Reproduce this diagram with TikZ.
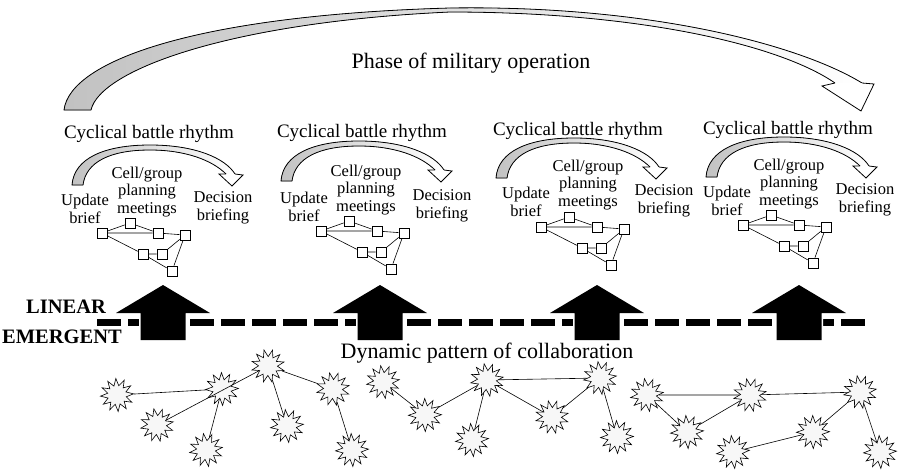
\documentclass[tikz,border=0pt]{standalone}
\usepackage{fontspec}
\setmainfont{Liberation Serif}
\usetikzlibrary{shapes.geometric}

\newcommand\bigtextfont{\fontsize{22}{26}\selectfont}
\newcommand\cycfont{\fontsize{19}{22}\selectfont}
\newcommand\labfont{\fontsize{16.5}{17.5}\selectfont}
\newcommand\tagfont{\fontsize{20.5}{24}\selectfont\bfseries}

\tikzset{
  ribbonfill/.style={left color=black!24, right color=white},
  ribbonedge/.style={draw=black, line width=0.8pt, line join=round},
  openhead/.style={draw=black, fill=white, line width=0.8pt, line join=miter},
  box/.style={draw=black, fill=white, line width=0.6pt, minimum size=10pt, inner sep=0pt},
  link/.style={draw=black, line width=0.6pt},
  burst/.style={star, star points=12, star point ratio=1.75, minimum size=33pt,
    inner sep=0pt, draw=black, fill=black!3, line width=0.6pt},
  cyctitle/.style={anchor=base, inner sep=0pt, font=\cycfont},
  steplabel/.style={align=center, inner sep=0pt, font=\labfont},
  blockup/.pic={
    \path[fill=black, preaction={draw=white, line width=3pt}]
      (-22.5,340) -- (-22.5,313) -- (-47,313) -- (0,285) -- (47,313)
      -- (22.5,313) -- (22.5,340) -- cycle;
  }
}

% One battle-rhythm cycle: #1 id, #2 arc shift, #3 title shift,
% #4 label shift, #5 network shift
\newcommand\battlecycle[5]{%
  \begin{scope}[shift={(#2)}]
    \fill[ribbonfill] (72,185) .. controls (74,158) and (105,145) .. (150,145)
      .. controls (195,145) and (225,158) .. (235,174) -- (226,174)
      .. controls (212,160) and (185,150) .. (150,150)
      .. controls (110,150) and (86,162) .. (83,185) -- cycle;
    \draw[ribbonedge] (83,185) -- (72,185) .. controls (74,158) and (105,145) .. (150,145)
      .. controls (195,145) and (225,158) .. (235,174);
    \draw[ribbonedge] (226,174) .. controls (212,160) and (185,150) .. (150,150)
      .. controls (110,150) and (86,162) .. (83,185);
    \fill[white] (226,174) -- (219,174) -- (232,186) -- (243,175) -- (235,174) -- cycle;
    \draw[openhead] (226,174) -- (219,174) -- (232,186) -- (243,175) -- (235,174);
  \end{scope}
  \begin{scope}[shift={(#3)}]
    \node[cyctitle] (cyc#1) at (149,138) {Cyclical battle rhythm};
  \end{scope}
  \begin{scope}[shift={(#4)}]
    \node[steplabel] (upd#1) at (85,209) {Update\\brief};
    \node[steplabel] (cell#1) at (147,192) {Cell/group\\planning\\meetings};
    \node[steplabel] (dec#1) at (223,208) {Decision\\briefing};
  \end{scope}
  \begin{scope}[shift={(#5)}]
    \node[box] (a#1) at (102,233) {};
    \node[box] (b#1) at (130,223) {};
    \node[box] (c#1) at (158,233) {};
    \node[box] (d#1) at (185,235) {};
    \node[box] (e#1) at (143,254) {};
    \node[box] (f#1) at (162,254) {};
    \node[box] (g#1) at (172,271) {};
    \draw[link] (a#1) -- (b#1) (b#1) -- (c#1) (a#1) -- (c#1) (c#1) -- (d#1)
      (a#1) -- (e#1) (e#1) -- (f#1) (f#1) -- (d#1) (d#1) -- (g#1) (e#1) -- (g#1);
  \end{scope}
}

\begin{document}
\begin{tikzpicture}[x=1pt, y=-1pt]
  \fill[white] (0,0) rectangle (898,475);
  \useasboundingbox (0,0) rectangle (898,475);

  % phase arc over the whole operation
  \fill[ribbonfill] (64,110) .. controls (70,60) and (200,15) .. (450,8)
    .. controls (650,5) and (800,45) .. (862,83) -- (835,83)
    .. controls (780,45) and (640,12) .. (450,12)
    .. controls (230,22) and (100,70) .. (91,110) -- cycle;
  \draw[ribbonedge] (91,110) -- (64,110) .. controls (70,60) and (200,15) .. (450,8)
    .. controls (650,5) and (800,45) .. (862,83);
  \draw[ribbonedge] (835,83) .. controls (780,45) and (640,12) .. (450,12)
    .. controls (230,22) and (100,70) .. (91,110);
  \fill[white] (835,83) -- (822,86) -- (861,111) -- (874,84) -- (862,83) -- cycle;
  \draw[openhead] (835,83) -- (822,86) -- (861,111) -- (874,84) -- (862,83);
  \node[anchor=base, inner sep=0pt, font=\bigtextfont] (phase) at (471,68)
    {Phase of military operation};

  % the four battle-rhythm cycles
  \battlecycle{1}{0,0}{0,0}{0,0}{0,0}
  \battlecycle{2}{209,-4}{213,-1}{219,-2}{219,-2}
  \battlecycle{3}{424,-7}{429,-3}{441,-7}{439,-6}
  \battlecycle{4}{634,-8}{639,-4}{642,-8}{641,-8}

  % boundary between linear and emergent
  \coordinate (dashL) at (97,322.5);
  \coordinate (dashR) at (868,322.5);
  \draw[line width=7pt, dash pattern=on 24pt off 7pt] (dashL) -- (dashR);
  \pic at (163,0) {blockup};
  \pic at (380,0) {blockup};
  \pic at (597,0) {blockup};
  \pic at (799,0) {blockup};
  \node[anchor=base, inner sep=0pt, font=\tagfont] (linear) at (66,313) {LINEAR};
  \node[anchor=base, inner sep=0pt, font=\tagfont] (emergent) at (62,343) {EMERGENT};

  \node[anchor=base, inner sep=0pt, font=\bigtextfont] (dyn) at (487,358)
    {Dynamic pattern of collaboration};

  % collaboration bursts
  \node[burst, shape border rotate=4]  (s1) at (117,395) {};
  \node[burst, shape border rotate=11] (s2) at (157,425) {};
  \node[burst, shape border rotate=2]  (s3) at (222,389) {};
  \node[burst, shape border rotate=9]  (s4) at (206,450) {};
  \node[burst, shape border rotate=14] (s5) at (268,366) {};
  \node[burst, shape border rotate=6]  (s6) at (287,426) {};
  \node[burst, shape border rotate=12] (s7) at (333,389) {};
  \node[burst, shape border rotate=3]  (s8) at (352,450) {};
  \node[burst, shape border rotate=8]  (m1) at (383,382) {};
  \node[burst, shape border rotate=1]  (m2) at (425,415) {};
  \node[burst, shape border rotate=10] (m3) at (487,380) {};
  \node[burst, shape border rotate=5]  (m4) at (472,440) {};
  \node[burst, shape border rotate=13] (m5) at (552,417) {};
  \node[burst, shape border rotate=7]  (m6) at (600,378) {};
  \node[burst, shape border rotate=2]  (m7) at (617,437) {};
  \node[burst, shape border rotate=9]  (r1) at (647,395) {};
  \node[burst, shape border rotate=4]  (r2) at (687,432) {};
  \node[burst, shape border rotate=12] (r3) at (750,395) {};
  \node[burst, shape border rotate=6]  (r4) at (733,452) {};
  \node[burst, shape border rotate=1]  (r5) at (813,432) {};
  \node[burst, shape border rotate=10] (r6) at (860,392) {};
  \node[burst, shape border rotate=3]  (r7) at (880,452) {};

  \draw[link] (s1) -- (s3) (s2) -- (s5) (s4) -- (s3) (s5) -- (s7) (s5) -- (s6) (s7) -- (s8);
  \draw[link] (m1) -- (m2) (m2) -- (m3) (m3) -- (m6) (m3) -- (m4) (m3) -- (m5)
    (m5) -- (m6) (m6) -- (m7);
  \draw[link] (r1) -- (r3) (r1) -- (r2) (r2) -- (r3) (r3) -- (r6) (r4) -- (r5)
    (r5) -- (r6) (r6) -- (r7);
\end{tikzpicture}
\end{document}
